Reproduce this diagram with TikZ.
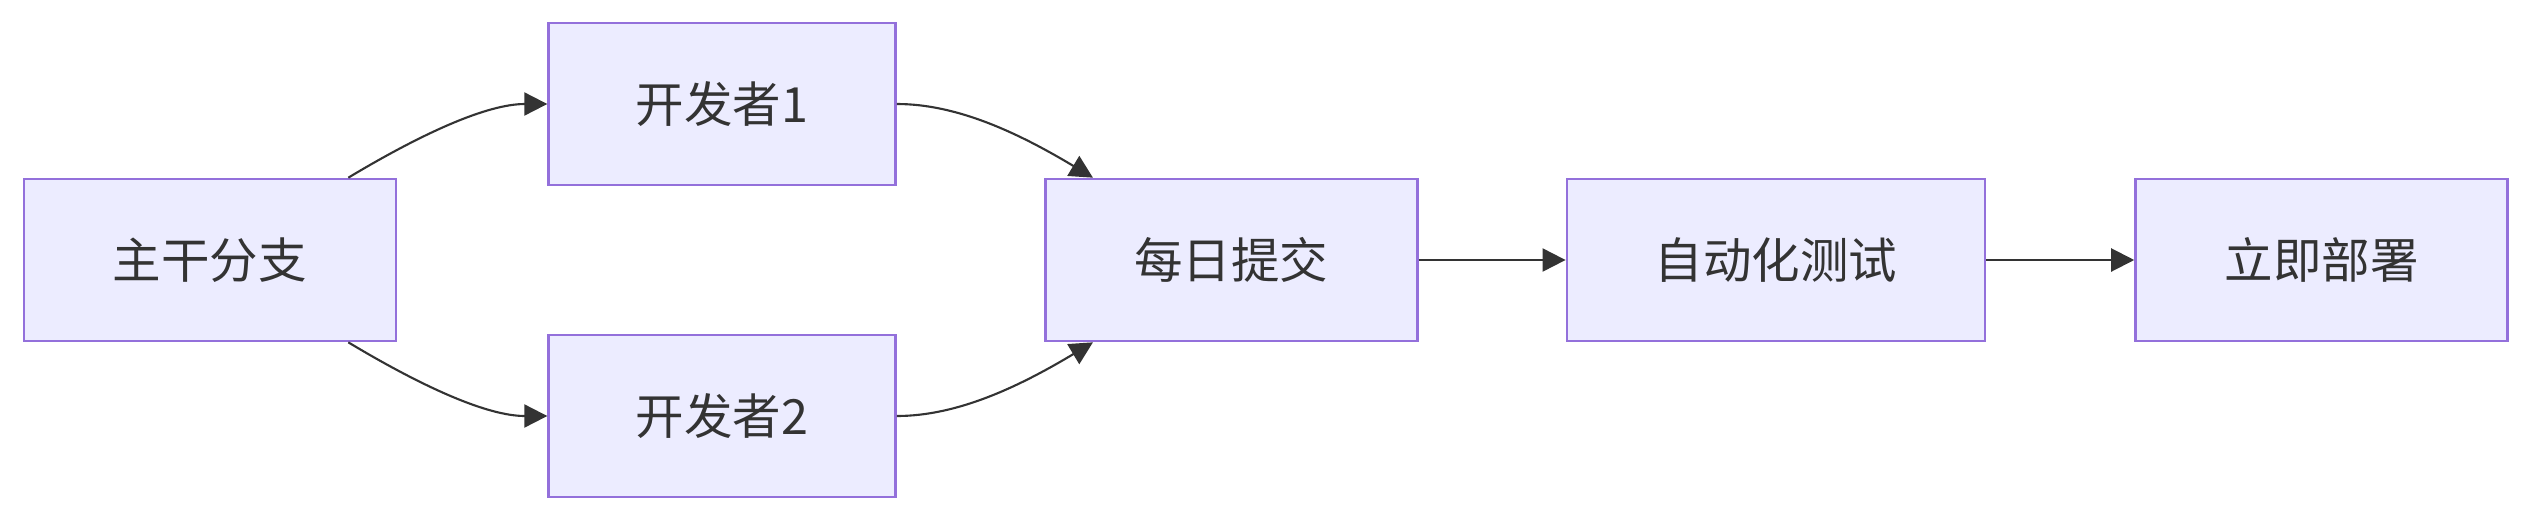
\documentclass[tikz,border=0pt]{standalone}
\usepackage{fontspec}
\usepackage{xcolor}
\usepackage{tikz}
\usetikzlibrary{arrows.meta,positioning,calc}
\newfontfamily\cjk{Noto Sans CJK SC}
\definecolor{boxF}{HTML}{ECECFF}
\definecolor{boxD}{HTML}{9370DB}
\definecolor{fleche}{HTML}{333333}
\tikzset{
  etape/.style={rectangle, draw=boxD, line width=0.75pt, fill=boxF, align=center,
                font=\cjk\fontsize{13.8}{16}\selectfont, text=fleche,
                minimum height=1.62cm, minimum width=#1, inner sep=0pt},
  arr/.style={-{Triangle[length=2.3mm, width=2.3mm]}, line width=0.6pt, draw=fleche},
}
\begin{document}
\begin{tikzpicture}
    \useasboundingbox (-2.10,-2.62) rectangle (23.23,2.60);
    \node[etape=3.72cm] (tronc) at (0,0) {主干分支};
    \node[etape=3.47cm, right=1.5cm of tronc, yshift=1.56cm] (dev1) {开发者1};
    \node[etape=3.47cm, right=1.5cm of tronc, yshift=-1.56cm] (dev2) {开发者2};
    \node[etape=3.72cm, right=1.47cm of dev1, yshift=-1.56cm] (commit) {每日提交};
    \node[etape=4.18cm, right=1.47cm of commit] (test) {自动化测试};
    \node[etape=3.72cm, right=1.48cm of test] (deploy) {立即部署};
    \draw[arr] ([xshift=-0.49cm]tronc.north east) .. controls ++(0.75,0.45) and ++(-0.6,0) .. (dev1.west);
    \draw[arr] ([xshift=-0.49cm]tronc.south east) .. controls ++(0.75,-0.45) and ++(-0.6,0) .. (dev2.west);
    \draw[arr] (dev1.east) .. controls ++(0.6,0) and ++(-0.75,0.45) .. ([xshift=0.49cm]commit.north west);
    \draw[arr] (dev2.east) .. controls ++(0.6,0) and ++(-0.75,-0.45) .. ([xshift=0.49cm]commit.south west);
    \draw[arr] (commit) -- (test); \draw[arr] (test) -- (deploy);
\end{tikzpicture}
\end{document}
